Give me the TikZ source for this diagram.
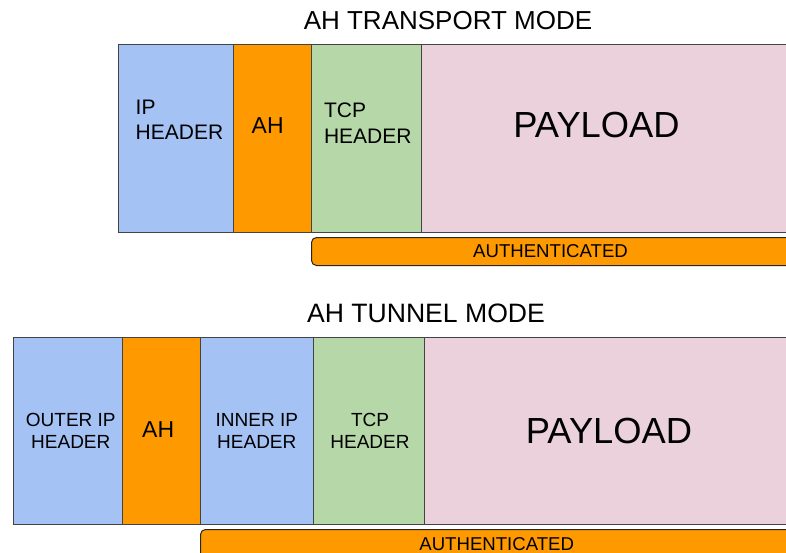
\documentclass[tikz,border=0pt]{standalone}
\usepackage{fontspec}
\setmainfont{Liberation Sans}
\definecolor{ipblue}{HTML}{A4C2F4}
\definecolor{ahorange}{HTML}{FF9900}
\definecolor{tcpgreen}{HTML}{B6D7A8}
\definecolor{loadpink}{HTML}{EAD1DC}
\definecolor{edgegray}{HTML}{434343}
\tikzset{
  field/.style={draw=edgegray, line width=1pt},
  authbar/.style={draw=black!85, fill=ahorange, rounded corners=5pt, line width=1pt},
  modetitle/.style={font=\fontsize{26}{30}\selectfont},
  hdrtext/.style={font=\fontsize{21}{25}\selectfont, align=left, inner sep=0pt},
  smalltext/.style={font=\fontsize{19}{22.3}\selectfont, align=center, inner sep=0pt},
  ahtext/.style={font=\fontsize{23}{27}\selectfont, inner sep=0pt},
  loadtext/.style={font=\fontsize{36.3}{40}\selectfont, inner sep=0pt},
  authtext/.style={font=\fontsize{18.6}{21}\selectfont, inner sep=0pt}
}
\begin{document}
\begin{tikzpicture}[x=1pt,y=-1pt]
  \clip (0,0) rectangle (786,553);
  \fill[white] (0,0) rectangle (786,553);
  \node[modetitle] (transtitle) at (448,20.7) {AH TRANSPORT MODE};
  \foreach \a/\b/\c in {118/233/ipblue, 233/311/ahorange, 311/421/tcpgreen, 421/800/loadpink}
    \draw[field, fill=\c] (\a,45) rectangle (\b,232);
  \node[hdrtext] (transip) at (179.5,119.5) {IP\\HEADER};
  \node[ahtext] (transah) at (267.7,125.7) {AH};
  \node[hdrtext, font=\fontsize{21}{26}\selectfont] (transtcp) at (367.8,123) {TCP\\HEADER};
  \node[loadtext] (transload) at (596.5,125.5) {PAYLOAD};
  \draw[authbar] (311.5,237.5) rectangle (800,265.5);
  \node[authtext] (transauth) at (550.5,251.5) {AUTHENTICATED};

  \node[modetitle, font=\fontsize{26.6}{30}\selectfont] (tuntitle) at (426,313.3) {AH TUNNEL MODE};
  \foreach \a/\b/\c in {13/122/ipblue, 122/200/ahorange, 200/313/ipblue, 313/424/tcpgreen, 424/800/loadpink}
    \draw[field, fill=\c] (\a,337) rectangle (\b,524);
  \node[smalltext] (tunouter) at (70.8,431.2) {OUTER IP\\HEADER};
  \node[ahtext] (tunah) at (158.2,430) {AH};
  \node[smalltext] (tuninner) at (256.8,431.2) {INNER IP\\HEADER};
  \node[smalltext] (tuntcp) at (370,431.2) {TCP\\HEADER};
  \node[loadtext] (tunload) at (609,431) {PAYLOAD};
  \draw[authbar] (200.5,529.5) rectangle (800,580);
  \node[authtext] (tunauth) at (496.7,543.8) {AUTHENTICATED};
\end{tikzpicture}
\end{document}
